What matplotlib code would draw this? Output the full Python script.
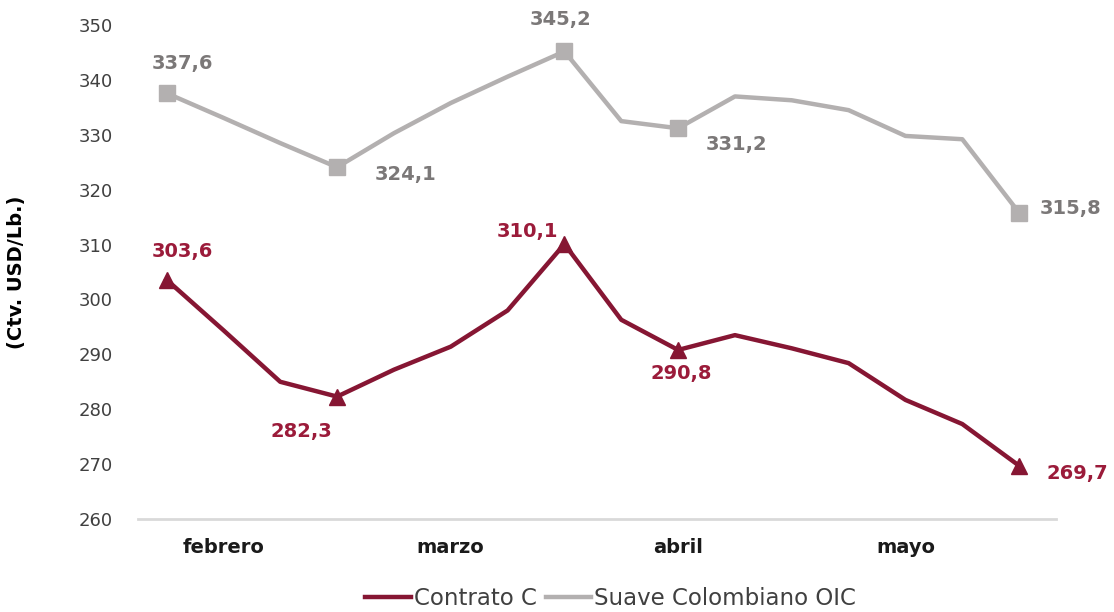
import matplotlib
matplotlib.use("Agg")
import matplotlib.pyplot as plt
import numpy as np

plt.rcParams['font.family'] = ['DejaVu Sans']

# weekly prices, feb-may (4 points per month)
contrato_c = [303.6, 294.4, 285.0, 282.3, 287.2, 291.4, 298.0, 310.1,
              296.3, 290.8, 293.5, 291.1, 288.4, 281.7, 277.3, 269.7]
suave_oic = [337.6, 333.1, 328.5, 324.1, 330.3, 335.8, 340.6, 345.2,
             332.5, 331.2, 337.0, 336.3, 334.5, 329.8, 329.2, 315.8]
meses = ["febrero", "marzo", "abril", "mayo"]
mes_pos = [1, 5, 9, 13]
marcados = [0, 3, 7, 9, 15]

red = "#861633"
red_txt = "#9b1b3a"
gray = "#b3b0b0"
gray_txt = "#7b7878"

x = np.arange(len(contrato_c))

fig = plt.figure(figsize=(11.14, 6.12), dpi=100)
ax = fig.add_axes([0.124, 0.152, 0.824, 0.807])

ax.plot(x, contrato_c, color=red, lw=3.2, label="Contrato C")
ax.plot(x, suave_oic, color=gray, lw=3.2, label="Suave Colombiano OIC")
ax.plot(x[marcados], np.array(contrato_c)[marcados], ls="none", marker="^", ms=12, color=red, clip_on=False)
ax.plot(x[marcados], np.array(suave_oic)[marcados], ls="none", marker="s", ms=11, color=gray, clip_on=False)

# label offsets in pixels (dx, dy, ha)
off_red = {0: (16, 28, "center"), 3: (-36, -35, "center"), 7: (-6, 13, "right"),
           9: (3, -24, "center"), 15: (27, -8, "left")}
off_gray = {0: (16, 30, "center"), 3: (38, -7, "left"), 7: (-4, 32, "center"),
            9: (28, -16, "left"), 15: (21, 4, "left")}

def fmt(v):
    return f"{v:.1f}".replace(".", ",")

for i, (dx, dy, ha) in off_red.items():
    ax.annotate(fmt(contrato_c[i]), (x[i], contrato_c[i]), xytext=(dx, dy),
                textcoords="offset pixels", ha=ha, va="center", fontsize=14,
                fontweight="semibold", color=red_txt, annotation_clip=False)
for i, (dx, dy, ha) in off_gray.items():
    ax.annotate(fmt(suave_oic[i]), (x[i], suave_oic[i]), xytext=(dx, dy),
                textcoords="offset pixels", ha=ha, va="center", fontsize=14,
                fontweight="semibold", color=gray_txt, annotation_clip=False)

ax.set_ylim(260, 350)
ax.set_xlim(-0.5, 15.65)
ax.set_yticks(np.arange(260, 351, 10))
ax.tick_params(axis="y", length=0, labelsize=13, labelcolor="#404040", pad=18)
ax.set_xticks(mes_pos)
ax.set_xticklabels(meses, fontsize=14, fontweight="bold", color="#1a1a1a")
ax.tick_params(axis="x", length=0, pad=14)

for s in ["top", "right", "left"]:
    ax.spines[s].set_visible(False)
ax.spines["bottom"].set_color("#d9d9d9")
ax.spines["bottom"].set_linewidth(2)

ax.set_ylabel("(Ctv. USD/Lb.)", fontsize=14, fontweight="bold", labelpad=38)

fig.legend(loc="lower center", bbox_to_anchor=(0.548, -0.03), ncol=2, frameon=False,
           fontsize=16.5, handlelength=2.0, handletextpad=0.1, columnspacing=0.4,
           labelcolor="#404040")

fig.savefig("out.png", dpi=100)
